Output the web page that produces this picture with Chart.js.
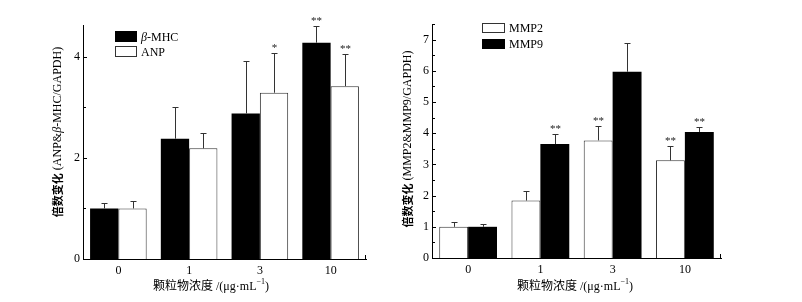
<!DOCTYPE html>
<html>
<head>
<meta charset="utf-8">
<script src="https://cdn.jsdelivr.net/npm/chart.js@4.4.0/dist/chart.umd.min.js"></script>
<style>
	html, body { margin: 0; padding: 0; background: #fff; }
	#wrap { position: relative; width: 802px; height: 302px; overflow: hidden; }
	.box { position: absolute; top: 0; height: 302px; }
</style>
</head>
<body>
<div id="wrap">
	<div class="box" style="left:0;width:400px"><canvas id="chartLeft"></canvas></div>
	<div class="box" style="left:400px;width:402px"><canvas id="chartRight"></canvas></div>
</div>
<script>
(() => {
	'use strict'

	// Data
	const categories = ['0', '1', '3', '10'];

	// Left panel: beta-MHC / ANP
	const betaMHC = [1.0, 2.38, 2.88, 4.28];
	const betaMHCErr = [0.11, 0.62, 1.03, 0.34];
	const betaMHCStars = ['', '', '', '**'];
	const anp = [1.0, 2.19, 3.29, 3.42];
	const anpErr = [0.14, 0.31, 0.78, 0.63];
	const anpStars = ['', '', '*', '**'];
	const leftTicks = [0, 2, 4];
	const leftMinorTicks = [1, 3];

	// Right panel: MMP2 / MMP9
	const mmp2 = [1.0, 1.84, 3.77, 3.13];
	const mmp2Err = [0.15, 0.31, 0.46, 0.46];
	const mmp2Stars = ['', '', '**', '**'];
	const mmp9 = [1.0, 3.65, 5.97, 4.04];
	const mmp9Err = [0.09, 0.31, 0.92, 0.16];
	const mmp9Stars = ['', '**', '', '**'];
	const rightTicks = [0, 1, 2, 3, 4, 5, 6, 7];
	const rightMinorTicks = [0.5, 1.5, 2.5, 3.5, 4.5, 5.5, 6.5, 7.5];

	const serif = '"Liberation Serif", "Noto Sans CJK SC", serif';
	const cjk = '"Noto Sans CJK SC", sans-serif';

	// Draws a row of text pieces with their own fonts, centered on x
	function drawPieces(ctx, pieces, cx, cy) {
		let total = 0;
		pieces.forEach(p => { ctx.font = p.font; total += ctx.measureText(p.text).width; });
		let x = cx - total / 2;
		ctx.textAlign = 'left';
		ctx.textBaseline = 'middle';
		pieces.forEach(p => {
			ctx.font = p.font;
			ctx.fillText(p.text, x, cy + (p.dy || 0));
			x += ctx.measureText(p.text).width;
		});
	}

	// Inward ticks, error bars, stars, legend and axis titles
	const extras = {
		id: 'extras',
		afterDatasetsDraw(chart, args, opts) {
			const ctx = chart.ctx;
			const y = chart.scales.y;
			const area = chart.chartArea;
			ctx.save();
			ctx.fillStyle = '#000';

			// error bars
			ctx.strokeStyle = '#333';
			ctx.lineWidth = 1;
			chart.data.datasets.forEach((ds, i) => {
				const meta = chart.getDatasetMeta(i);
				meta.data.forEach((bar, j) => {
					const top = Math.round(y.getPixelForValue(ds.data[j] + opts.errors[i][j])) + 0.5;
					const bx = Math.round(bar.x) + 0.5;
					ctx.beginPath();
					ctx.moveTo(bx, bar.y);
					ctx.lineTo(bx, top);
					ctx.moveTo(bx - 3, top);
					ctx.lineTo(bx + 3, top);
					ctx.stroke();
					const s = opts.stars[i][j];
					if (s) {
						ctx.font = '11px ' + serif;
						ctx.textAlign = 'center';
						ctx.textBaseline = 'alphabetic';
						ctx.fillStyle = '#222';
						ctx.fillText(s, bx, top - 3);
					}
				});
			});

			// y ticks drawn on the inner side
			ctx.strokeStyle = '#000';
			ctx.beginPath();
			opts.major.forEach(v => {
				const py = Math.round(y.getPixelForValue(v)) + 0.5;
				ctx.moveTo(area.left, py);
				ctx.lineTo(area.left + 4, py);
			});
			opts.minor.forEach(v => {
				const py = Math.round(y.getPixelForValue(v)) + 0.5;
				ctx.moveTo(area.left, py);
				ctx.lineTo(area.left + 3, py);
			});
			ctx.moveTo(Math.round(area.right) - 0.5, area.bottom);
			ctx.lineTo(Math.round(area.right) - 0.5, area.bottom - 4);
			ctx.stroke();

			// legend
			opts.legend.forEach(item => {
				if (item.fill === '#000') {
					ctx.fillStyle = '#000';
					ctx.fillRect(item.x, item.y, item.w, item.h);
				} else {
					ctx.strokeStyle = '#333';
					ctx.strokeRect(item.x + 0.5, item.y + 0.5, item.w - 1, item.h - 1);
				}
				ctx.fillStyle = '#000';
				let tx = item.x + item.w + 4;
				ctx.textAlign = 'left';
				ctx.textBaseline = 'middle';
				item.pieces.forEach(p => {
					ctx.font = p.font;
					ctx.fillText(p.text, tx, item.y + item.h / 2 + 1);
					tx += ctx.measureText(p.text).width;
				});
			});

			// y axis title
			ctx.save();
			ctx.translate(opts.yTitle.x, opts.yTitle.y);
			ctx.rotate(-Math.PI / 2);
			drawPieces(ctx, opts.yTitle.pieces, 0, 0);
			ctx.restore();

			// x axis title
			drawPieces(ctx, [
				{ text: '颗粒物浓度 /(μg·mL', font: '12px ' + serif },
				{ text: '−1', font: '8px ' + serif, dy: -5 },
				{ text: ')', font: '12px ' + serif }
			], opts.xTitle.x, opts.xTitle.y);

			ctx.restore();
		}
	};

	function makeConfig(datasets, yMax, ticks, panel) {
		return {
			type: 'bar',
			data: { labels: categories, datasets: datasets },
			plugins: [extras],
			options: {
				responsive: true,
				maintainAspectRatio: false,
				animation: false,
				layout: { padding: panel.padding },
				plugins: {
					legend: { display: false },
					tooltip: { enabled: false },
					title: { display: false },
					extras: panel.extras
				},
				datasets: {
					bar: { categoryPercentage: 0.8, barPercentage: 1.0 }
				},
				scales: {
					x: {
						grid: { display: false, drawTicks: false },
						border: { display: true, color: '#000', width: 1 },
						ticks: { color: '#000', padding: 5, font: { family: serif, size: 12 } },
						afterFit: s => { s.height = panel.xHeight; }
					},
					y: {
						min: 0,
						max: yMax,
						grid: { display: false, drawTicks: false },
						border: { display: true, color: '#000', width: 1 },
						ticks: { color: '#000', padding: 3, font: { family: serif, size: 12 } },
						afterBuildTicks: s => { s.ticks = ticks.map(v => ({ value: v })); },
						afterFit: s => { s.width = panel.yWidth; }
					}
				}
			}
		};
	}

	/******************** Left chart ********************/
	const leftDatasets = [
		{ label: 'β-MHC', data: betaMHC, backgroundColor: '#000', borderWidth: 0 },
		{ label: 'ANP', data: anp, backgroundColor: '#fff', borderColor: '#333', borderWidth: 1 }
	];
	new Chart(document.getElementById('chartLeft'), makeConfig(leftDatasets, 4.63, leftTicks, {
		padding: { left: 0, top: 25, right: 34, bottom: 0 },
		xHeight: 43,
		yWidth: 83,
		extras: {
			errors: [betaMHCErr, anpErr],
			stars: [betaMHCStars, anpStars],
			major: leftTicks,
			minor: leftMinorTicks,
			legend: [
				{ x: 115, y: 31, w: 22, h: 11, fill: '#000', pieces: [
					{ text: 'β', font: 'italic 12px ' + serif },
					{ text: '-MHC', font: '12px ' + serif }
				] },
				{ x: 115, y: 46, w: 22, h: 11, fill: '#fff', pieces: [
					{ text: 'ANP', font: '12px ' + serif }
				] }
			],
			yTitle: { x: 58, y: 132, pieces: [
				{ text: '倍数变化', font: 'bold 11px ' + cjk },
				{ text: ' (ANP&', font: '12px ' + serif },
				{ text: 'β', font: 'italic 12px ' + serif },
				{ text: '-MHC/GAPDH)', font: '12px ' + serif }
			] },
			xTitle: { x: 211, y: 287 }
		}
	}));

	/******************** Right chart ********************/
	const rightDatasets = [
		{ label: 'MMP2', data: mmp2, backgroundColor: '#fff', borderColor: '#333', borderWidth: 1 },
		{ label: 'MMP9', data: mmp9, backgroundColor: '#000', borderWidth: 0 }
	];
	new Chart(document.getElementById('chartRight'), makeConfig(rightDatasets, 7.5, rightTicks, {
		padding: { left: 0, top: 24, right: 81, bottom: 0 },
		xHeight: 44,
		yWidth: 32,
		extras: {
			errors: [mmp2Err, mmp9Err],
			stars: [mmp2Stars, mmp9Stars],
			major: rightTicks,
			minor: rightMinorTicks,
			legend: [
				{ x: 82, y: 23, w: 23, h: 10, fill: '#fff', pieces: [
					{ text: 'MMP2', font: '12px ' + serif }
				] },
				{ x: 82, y: 39, w: 23, h: 10, fill: '#000', pieces: [
					{ text: 'MMP9', font: '12px ' + serif }
				] }
			],
			yTitle: { x: 8, y: 139, pieces: [
				{ text: '倍数变化', font: 'bold 11px ' + cjk },
				{ text: ' (MMP2&MMP9/GAPDH)', font: '12px ' + serif }
			] },
			xTitle: { x: 175, y: 287 }
		}
	}));
})()
</script>
</body>
</html>
